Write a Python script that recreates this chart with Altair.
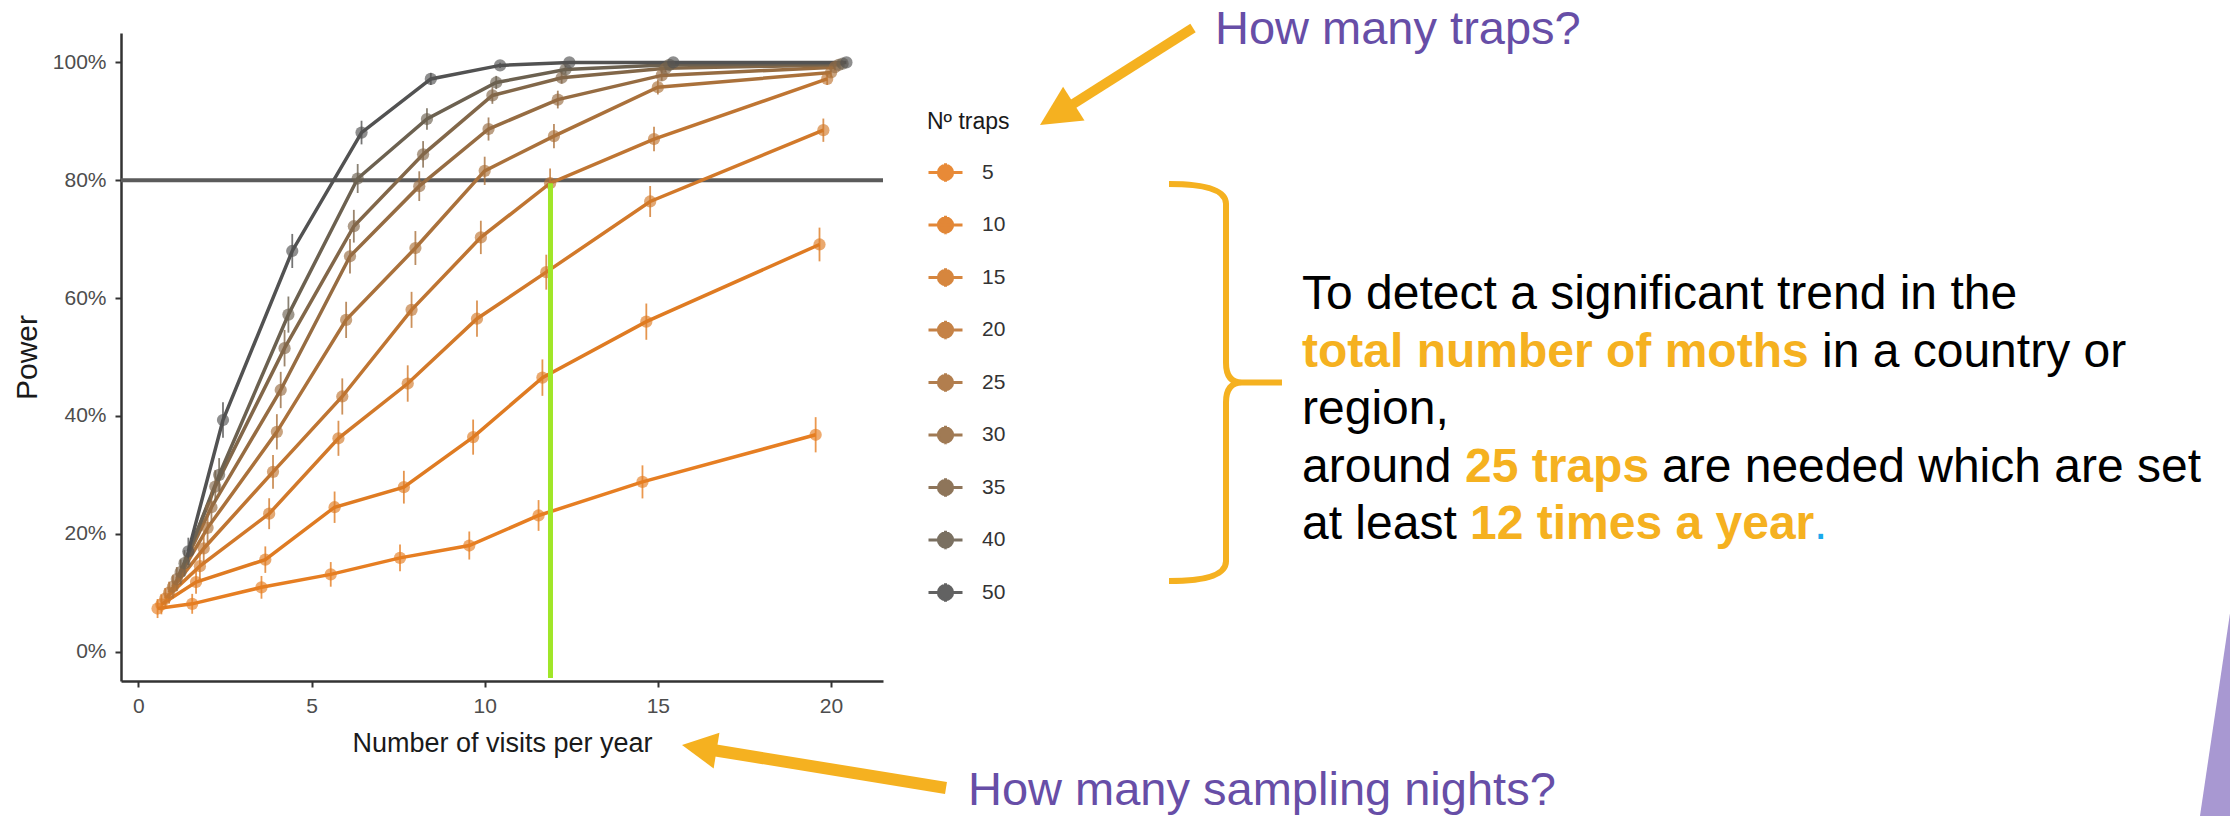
import math
import altair as alt
import pandas as pd

# ---- power curves: share of simulations detecting the trend (%) ----
visits = [1, 2, 4, 6, 8, 10, 12, 15, 20]
traps = [5, 10, 15, 20, 25, 30, 35, 40, 50]

power_5 = [7.3, 8.1, 10.9, 13.1, 15.9, 18.0, 23.1, 28.8, 36.8]
power_10 = [8.0, 11.8, 15.6, 24.5, 27.9, 36.4, 46.5, 56.0, 69.1]
power_15 = [9.0, 14.5, 23.4, 36.2, 45.5, 56.5, 64.4, 76.4, 88.5]
power_20 = [10.0, 17.5, 30.5, 43.3, 58.0, 70.3, 79.5, 87.0, 97.2]
power_25 = [11.0, 21.0, 37.3, 56.3, 68.5, 81.6, 87.5, 95.8, 98.3]
power_30 = [12.3, 24.5, 44.4, 67.1, 79.0, 88.7, 93.7, 97.8, 99.2]
power_35 = [13.5, 28.0, 51.5, 72.2, 84.4, 94.4, 97.4, 99.0, 99.6]
power_40 = [15.0, 30.0, 57.2, 80.3, 90.4, 96.6, 98.8, 99.6, 99.8]
power_50 = [17.0, 39.3, 68.0, 88.1, 97.2, 99.5, 100.0, 100.0, 100.0]

power_series = [power_5, power_10, power_15, power_20, power_25,
                power_30, power_35, power_40, power_50]

trap_colors = ["#E67E22", "#DF7B22", "#D2792A", "#BF7532", "#AA713B",
               "#966C42", "#826749", "#6C6150", "#525252"]

n_sims = 1000           # simulations per scenario -> binomial 95% interval
dodge_width = 1.0       # horizontal dodge shared by the nine trap groups
target_power = 0.80
marker_visits = 11.9
marker_top, marker_bottom = 0.795, -0.045

rows = []
for k, (n_traps, series) in enumerate(zip(traps, power_series)):
    offset = (k - (len(traps) - 1) / 2) * dodge_width / len(traps)
    for v, pct in zip(visits, series):
        p = pct / 100
        half = 1.96 * math.sqrt(p * (1 - p) / n_sims)
        rows.append({"traps": n_traps, "visits": v, "xd": v + offset,
                     "power": p, "lo": max(p - half, 0), "hi": min(p + half, 1)})
df = pd.DataFrame(rows)

# ---- layout (pixels) ----
FONT = "Liberation Sans"
ORANGE = "#F5B120"
PURPLE = "#674EA7"
LEFT, TOP = 121, 33
W, H = 762, 648
CANVAS_W, CANVAS_H = 2230, 816


def px(x):
    return x - LEFT


def py(y):
    return y - TOP


legend_symbol = ("M-1,0L1,0M0,-0.55L0,0.55"
                 "M-0.42,0A0.42,0.42,0,1,1,0.42,0A0.42,0.42,0,1,1,-0.42,0Z")

legend = alt.Legend(
    title="Nº traps", orient="none", legendX=px(927), legendY=py(111),
    symbolType=legend_symbol, symbolSize=34 * 34, symbolStrokeWidth=3,
    symbolOpacity=0.9,
    labelFontSize=21, labelFont=FONT, labelColor="#333333", labelOffset=18,
    titleFontSize=23, titleFont=FONT, titleFontWeight="normal", titleColor="#1a1a1a",
    rowPadding=18.5, titlePadding=20, padding=0,
)

x_enc = alt.X("xd:Q", scale=alt.Scale(domain=[-0.5, 21.5], nice=False, zero=False),
              axis=alt.Axis(values=[0, 5, 10, 15, 20], title="Number of visits per year",
                            titleY=70, titleBaseline="alphabetic", labelPadding=8))
y_enc = alt.Y("power:Q", scale=alt.Scale(domain=[-0.05, 1.05], nice=False, zero=False),
              axis=alt.Axis(values=[0, 0.2, 0.4, 0.6, 0.8, 1.0], format=".0%", title="Power",
                            titleX=-85, titleY=H / 2, titleAngle=270,
                            titleBaseline="alphabetic", titleAlign="center",
                            titleFontSize=30, labelPadding=9))
color_enc = alt.Color("traps:O", scale=alt.Scale(domain=traps, range=trap_colors),
                      legend=legend)

base = alt.Chart(df)

target_line = alt.Chart(pd.DataFrame({"power": [target_power]})).mark_rule(
    color="#5b5b5b", strokeWidth=4).encode(y=y_enc)

lines = base.mark_line(strokeWidth=3.5).encode(x=x_enc, y=y_enc, color=color_enc,
                                                order="xd:Q")
bars = base.mark_rule(strokeWidth=1.8, opacity=0.8).encode(
    x=x_enc, y=alt.Y("lo:Q"), y2="hi:Q", color=color_enc)
points = base.mark_point(filled=True, size=150, opacity=0.65).encode(
    x=x_enc, y=y_enc, color=color_enc)

marker = alt.Chart(pd.DataFrame({"xd": [marker_visits], "power": [marker_top],
                                 "power_end": [marker_bottom]})).mark_rule(
    color="#A0E628", strokeWidth=5).encode(x=x_enc, y=y_enc, y2="power_end:Q")

dummy = pd.DataFrame({"k": [0]})


def text_layer(txt, x, y, color, size=48, weight="normal"):
    return alt.Chart(dummy).mark_text(
        text=txt, align="left", baseline="alphabetic", font=FONT,
        fontSize=size, fontWeight=weight, color=color,
    ).encode(x=alt.value(px(x)), y=alt.value(py(y)))


# paragraph: (text, left x, baseline y, colour, weight)
paragraph = [
    ("To detect a significant trend in the", 1302, 309, "#000000", "normal"),
    ("total number of moths", 1302, 366.5, ORANGE, "bold"),
    ("in a country or", 1822, 366.5, "#000000", "normal"),
    ("region,", 1302, 423.5, "#000000", "normal"),
    ("around", 1302, 481.5, "#000000", "normal"),
    ("25 traps", 1465, 481.5, ORANGE, "bold"),
    ("are needed which are set", 1662, 481.5, "#000000", "normal"),
    ("at least", 1302, 539, "#000000", "normal"),
    ("12 times a year", 1470, 539, ORANGE, "bold"),
    (".", 1814, 539, "#19A9EC", "normal"),
]
text_layers = [text_layer(t, x, y, c, 48, w) for t, x, y, c, w in paragraph]
text_layers.append(text_layer("How many traps?", 1215, 44, PURPLE, 47))
text_layers.append(text_layer("How many sampling nights?", 968, 805, PURPLE, 47))

# arrows: tip, tail, shaft width, head length, head half-width
arrows = [((1040, 125), (1193, 28), 10, 40, 20),
          ((682, 745), (946, 788), 12, 35, 18)]
arrow_layers = []
for (tx, ty), (ex, ey), shaft, head_len, head_half in arrows:
    dx, dy = tx - ex, ty - ey
    length = math.hypot(dx, dy)
    ux, uy = dx / length, dy / length
    angle = math.degrees(math.atan2(dy, dx)) % 360
    r = head_len / 2
    sx, sy = tx - ux * head_len * 0.8, ty - uy * head_len * 0.8
    arrow_layers.append(alt.Chart(dummy).mark_rule(
        color=ORANGE, strokeWidth=shaft, strokeCap="butt").encode(
        x=alt.value(px(ex)), y=alt.value(py(ey)),
        x2=alt.value(px(sx)), y2=alt.value(py(sy))))
    w_ratio = head_half / r
    head_path = f"M1,0L-1,{-w_ratio:.3f}L-1,{w_ratio:.3f}Z"
    arrow_layers.append(alt.Chart(dummy).mark_point(
        shape=head_path, filled=True, size=(2 * r) ** 2, angle=angle,
        color=ORANGE, opacity=1).encode(
        x=alt.value(px(tx - ux * r)), y=alt.value(py(ty - uy * r))))

# curly brace grouping the legend entries with the conclusion
brace_half = 198.5
brace_path = ("M-0.287,-1Q0,-1 0,-0.9L0,-0.1Q0,0 0.08,0L0.282,0"
              "M0.08,0Q0,0 0,0.1L0,0.9Q0,1 -0.287,1")
brace = alt.Chart(dummy).mark_point(
    shape=brace_path, filled=False, size=(2 * brace_half) ** 2, strokeWidth=6,
    color=ORANGE, opacity=1).encode(x=alt.value(px(1226)), y=alt.value(py(382.5)))

# lavender corner accent
corner_half = 101.5
corner = alt.Chart(dummy).mark_point(
    shape="M0.148,-1L-0.148,1L0.2,1L0.2,-1Z", filled=True,
    size=(2 * corner_half) ** 2, color="#A898D2", opacity=1).encode(
    x=alt.value(px(2215)), y=alt.value(py(714.5)))

chart = alt.layer(
    target_line, lines, bars, points, marker, brace, corner,
    *arrow_layers, *text_layers,
).properties(
    width=W, height=H,
    autosize=alt.AutoSizeParams(type="none"),
    padding={"left": LEFT, "top": TOP,
             "right": CANVAS_W - LEFT - W, "bottom": CANVAS_H - TOP - H},
    background="white",
).configure_view(stroke=None).configure_axis(
    labelFont=FONT, titleFont=FONT, labelFontSize=21, labelColor="#4d4d4d",
    titleFontSize=27, titleColor="#1a1a1a", titleFontWeight="normal",
    domainColor="#333333", domainWidth=2.5, tickColor="#333333", tickWidth=2,
    tickSize=6, grid=False,
)

chart.save("out.html", embed_options={"renderer": "svg", "actions": False})
